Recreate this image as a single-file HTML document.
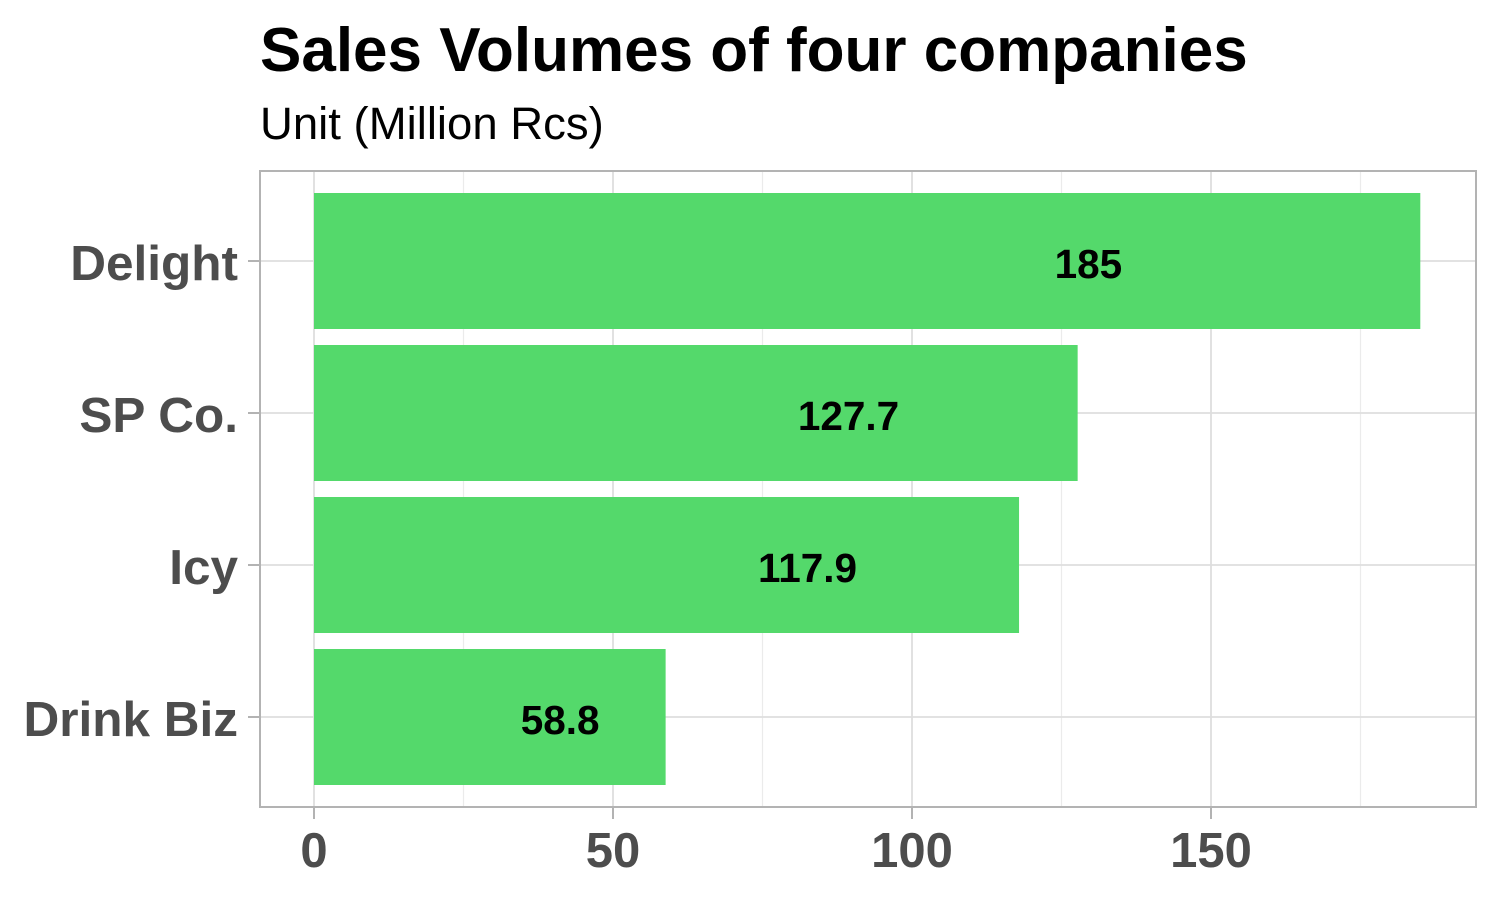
<!DOCTYPE html>
<html><head><meta charset="utf-8"><style>
html,body{margin:0;padding:0;background:#fff;}
svg{display:block;font-family:"Liberation Sans",Arial,sans-serif;}
</style></head><body>
<svg id="chart" width="1500" height="900">
<text x="260" y="71" font-size="62" font-weight="bold" fill="#000">Sales Volumes of four companies</text>
<text x="260" y="139" font-size="45.5" fill="#000">Unit (Million Rcs)</text>
<g id="grid"></g>
<g id="bars"></g>
<rect x="260" y="171" width="1216" height="636" fill="none" stroke="#b3b3b3" stroke-width="2"/>
<g id="axes"></g>
</svg>
<script>
const categories=["Delight","SP Co.","Icy","Drink Biz"];
const values=[185,127.7,117.9,58.8];
const valueLabels=["185","127.7","117.9","58.8"];
const xTicks=[0,50,100,150];
const xMinor=[25,75,125,175];
const NS="http://www.w3.org/2000/svg";
function x(v){return 314+v*5.98;}
function yc(i){return 261+i*152;}
function mk(tag,attrs,parent){const e=document.createElementNS(NS,tag);for(const k in attrs)e.setAttribute(k,attrs[k]);parent.appendChild(e);return e;}
const grid=document.getElementById('grid'),bars=document.getElementById('bars'),axes=document.getElementById('axes');
xMinor.forEach(v=>{const l=mk('line',{x1:x(v),x2:x(v),y1:171,y2:807,stroke:'#ebebeb','stroke-width':1.2},grid);

});
xTicks.forEach(v=>{const l=mk('line',{x1:x(v),x2:x(v),y1:171,y2:807,stroke:'#dedede','stroke-width':1.8},grid);


const t=mk('text',{x:x(v),y:867,'text-anchor':'middle','font-size':49,'font-weight':'bold',fill:'#4d4d4d'},axes);t.textContent=v;


const tk=mk('line',{x1:x(v),x2:x(v),y1:807,y2:819,stroke:'#b3b3b3','stroke-width':2},axes);

});
categories.forEach((c,i)=>{const y=yc(i);
const g=mk('line',{x1:260,x2:1476,y1:y,y2:y,stroke:'#dedede','stroke-width':1.8},grid);


const r=mk('rect',{x:x(0),y:y-68,width:x(values[i])-x(0),height:136,fill:'#54d96b'},bars);


const vl=mk('text',{x:x(values[i]*0.7),y:y+17,'text-anchor':'middle','font-size':40.5,'font-weight':'bold',fill:'#000'},bars);vl.textContent=valueLabels[i];


const cl=mk('text',{x:238,y:y+19,'text-anchor':'end','font-size':49.5,'font-weight':'bold',fill:'#4d4d4d'},axes);cl.textContent=c;


const tk=mk('line',{x1:248,x2:260,y1:y,y2:y,stroke:'#b3b3b3','stroke-width':2},axes);

});
</script>
</body></html>
